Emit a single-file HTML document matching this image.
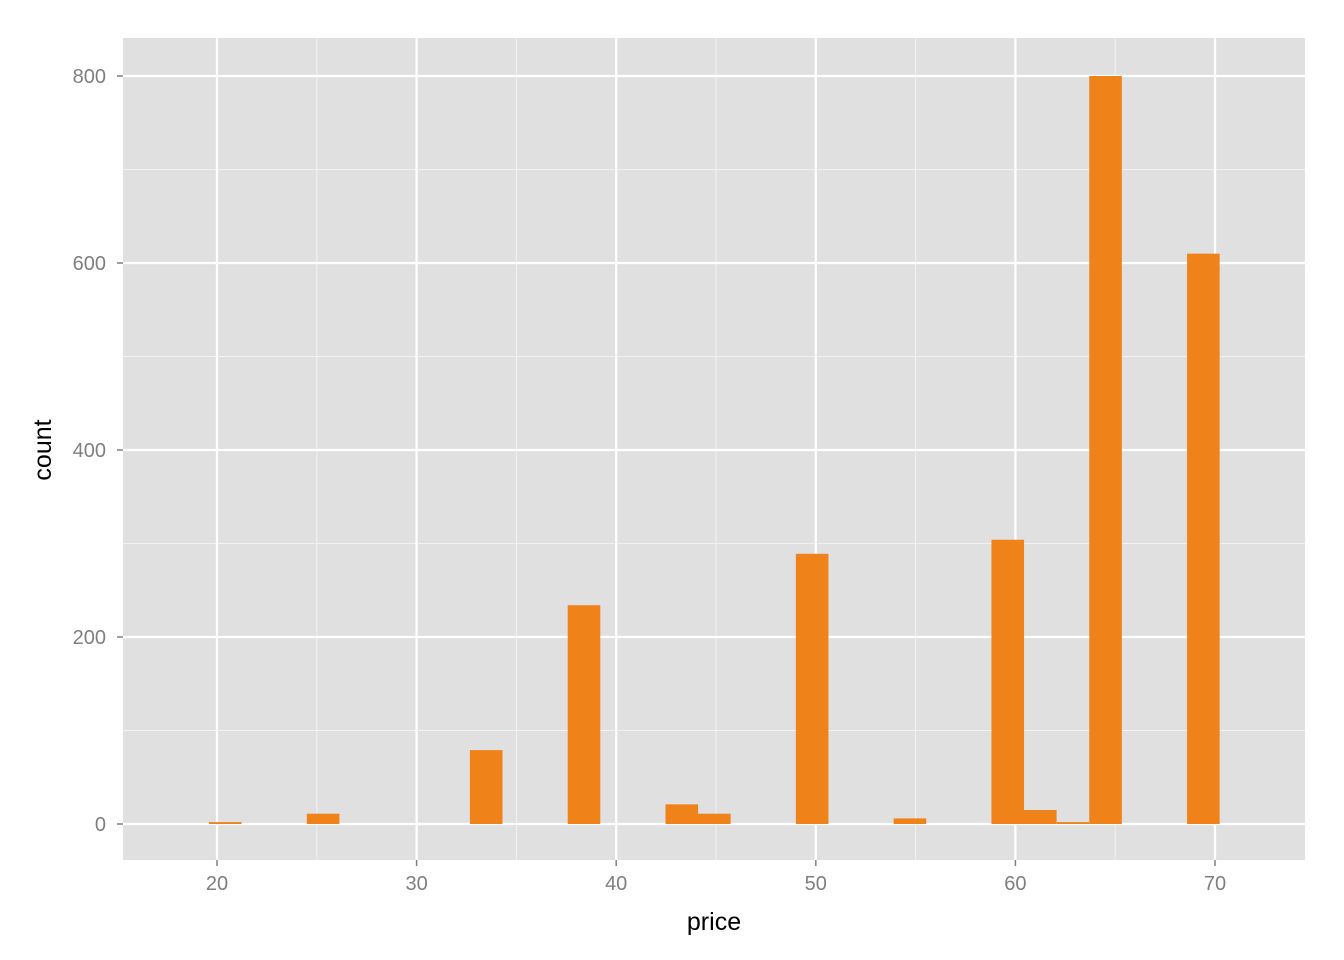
<!DOCTYPE html>
<html><head><meta charset="utf-8"><style>
html,body{margin:0;padding:0;background:#fff;}
svg{display:block;font-family:"Liberation Sans",Arial,sans-serif;}
</style></head><body>
<svg id="chart" width="1344" height="960">
<rect x="123" y="38" width="1182" height="822" fill="#E0E0E0"/>
<g id="grid"></g><g id="bars"></g><g id="axes"></g>
<text x="714" y="930" font-size="25" text-anchor="middle" fill="#000">price</text>
<text transform="translate(51,450) rotate(-90)" font-size="25" text-anchor="middle" fill="#000">count</text>
</svg>
<script>
const binStarts=[19.6,24.5,32.67,37.57,42.47,44.1,49.0,53.9,58.8,60.43,62.07,63.7,68.6];
const counts=[2,11,79,234,21,11,289,6,304,15,2,800,610];
const xTicks=[20,30,40,50,60,70];
const xMinor=[25,35,45,55,65];
const yTicks=[0,200,400,600,800];
const yMinor=[100,300,500,700];
const binWidth=1.6333;
const X=v=>217+(v-20)*19.96;
const Y=v=>824-v*0.935;
const NS="http://www.w3.org/2000/svg";
function mk(parent,tag,attrs){const e=document.createElementNS(NS,tag);for(const k in attrs)e.setAttribute(k,attrs[k]);parent.appendChild(e);return e;}
const g=document.getElementById('grid'),b=document.getElementById('bars'),a=document.getElementById('axes');
xMinor.forEach(v=>{const l=mk(g,'line',{x1:X(v),x2:X(v),y1:38,y2:860,stroke:'#F2F2F2','stroke-width':1});

});
yMinor.forEach(v=>{const l=mk(g,'line',{x1:123,x2:1305,y1:Y(v),y2:Y(v),stroke:'#F2F2F2','stroke-width':1});

});
xTicks.forEach(v=>{const l=mk(g,'line',{x1:X(v),x2:X(v),y1:38,y2:860,stroke:'#fff','stroke-width':2.2});


const t=mk(a,'line',{x1:X(v),x2:X(v),y1:860,y2:866,stroke:'#7F7F7F','stroke-width':1.5});


const tx=mk(a,'text',{x:X(v),y:890,'font-size':20,'text-anchor':'middle',fill:'#7F7F7F'});tx.textContent=v;

});
yTicks.forEach(v=>{const l=mk(g,'line',{x1:123,x2:1305,y1:Y(v),y2:Y(v),stroke:'#fff','stroke-width':2.2});


const t=mk(a,'line',{x1:117,x2:123,y1:Y(v),y2:Y(v),stroke:'#7F7F7F','stroke-width':1.5});


const tx=mk(a,'text',{x:106,y:Y(v)+7,'font-size':20,'text-anchor':'end',fill:'#7F7F7F'});tx.textContent=v;

});
binStarts.forEach((s,i)=>{const x0=X(s),x1=X(s+binWidth);
const r=mk(b,'rect',{x:x0,y:Y(counts[i]),width:x1-x0,height:Y(0)-Y(counts[i]),fill:'#F0821A'});

});
</script>
</body></html>
